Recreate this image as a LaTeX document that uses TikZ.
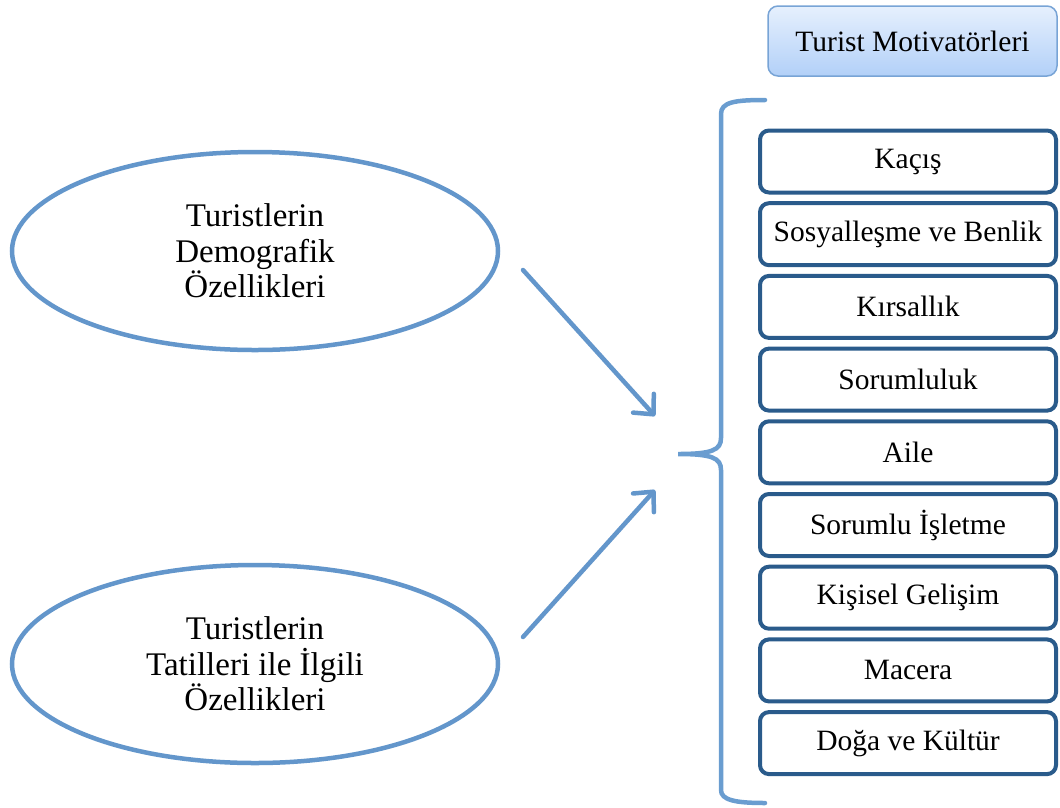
\documentclass[tikz,border=0pt]{standalone}
\usepackage{fontspec}
\setmainfont{Liberation Serif}
\usetikzlibrary{arrows.meta, positioning, shapes.geometric}
\definecolor{motivBlue}{HTML}{6396CB}
\definecolor{motivBrace}{HTML}{6A9DD0}
\definecolor{motivDark}{HTML}{2A5B8B}
\definecolor{motivEdge}{HTML}{78A4D6}
\definecolor{motivTop}{HTML}{E6F0FD}
\definecolor{motivBottom}{HTML}{B2D0F8}

\begin{document}
\begin{tikzpicture}[x=1pt, y=-1pt,
    oval/.style={draw=motivBlue, line width=4.5pt, ellipse, minimum width=486pt, minimum height=198pt,
      align=center, font=\fontsize{33}{35.5}\selectfont},
    motbox/.style={draw=motivDark, line width=4pt, rounded corners=9pt, minimum width=296pt, minimum height=62pt,
      font=\fontsize{29.5}{32}\selectfont},
    head/.style={draw=motivEdge, line width=1.5pt, rounded corners=10pt, top color=motivTop, bottom color=motivBottom,
      minimum width=289pt, minimum height=70pt, font=\fontsize{29.5}{32}\selectfont},
    conn/.style={-{Straight Barb[length=15pt, width=28pt, line width=4.5pt, round]}, line width=4.5pt,
      draw=motivBlue, line cap=round},
    brace/.style={line width=4.5pt, draw=motivBrace, line cap=round}]

  \useasboundingbox (0,0) rectangle (1060,807);

  \node[head] (hd) at (912.5,41) {Turist Motivatörleri};

  \node[oval] (dem) at (255,251) {Turistlerin\\Demografik\\Özellikleri};
  \node[oval] (tat) at (255,664) {Turistlerin\\Tatilleri ile İlgili\\Özellikleri};

  \foreach \txt [count=\i] in {Kaçış, Sosyalleşme ve Benlik, Kırsallık, Sorumluluk, Aile,
      Sorumlu İşletme, Kişisel Gelişim, Macera, Doğa ve Kültür} {
    \node[motbox] (m\i) at (908,{161.5+72.7*(\i-1)}) {\txt};
  }

  % brace round the motivators
  \coordinate (bt) at (678,454);
  \draw[brace] (765,100) .. controls (735,100) and (721,102) .. (721,114) -- (721,438)
    .. controls (721,450) and (712,454) .. (bt)
    .. controls (712,454) and (721,458) .. (721,470) -- (721,790)
    .. controls (721,800) and (735,803) .. (765,803);

  \coordinate (s1) at (523,270);
  \coordinate (e1) at (655,416);
  \coordinate (s2) at (523,637);
  \coordinate (e2) at (655,490);
  \draw[conn] (s1) -- (e1);
  \draw[conn] (s2) -- (e2);
\end{tikzpicture}
\end{document}
